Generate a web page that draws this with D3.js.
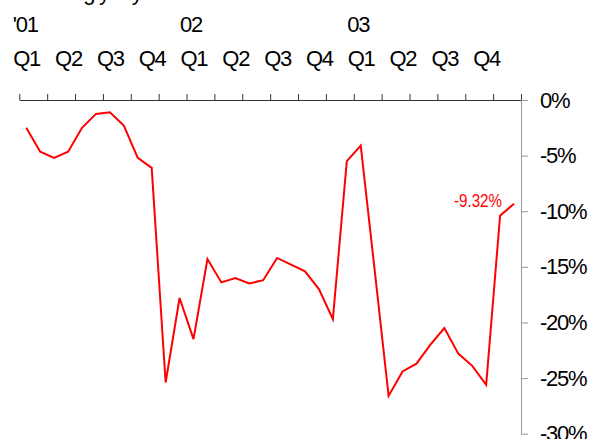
<!DOCTYPE html>
<html>
<head>
<meta charset="utf-8">
<script src="https://cdn.jsdelivr.net/npm/d3@7/dist/d3.min.js"></script>
<style>
  html, body { margin: 0; padding: 0; background: #fff; }
  svg { display: block; }
  text { font-family: "Liberation Sans", Arial, sans-serif; }
</style>
</head>
<body>
<svg id="chart" width="592" height="439"></svg>
<script>
// ---- data ----
const title = "Net billing y-o-y";
const years = ["'01", "02", "03"];
const quarters = ["Q1", "Q2", "Q3", "Q4"];
const values2001 = [-2.5, -4.65, -5.2, -4.65, -2.5, -1.25, -1.1, -2.3, -5.2, -6.1, -25.4, -17.8];
const values2002 = [-21.5, -14.3, -16.4, -16.0, -16.5, -16.2, -14.2, -14.8, -15.4, -17.0, -19.7, -5.5];
const values2003 = [-4.1, -15.3, -26.6, -24.4, -23.7, -22.0, -20.5, -22.8, -23.9, -25.6, -10.4, -9.32];
const yTicks = [0, -5, -10, -15, -20, -25, -30];
const lastLabel = "-9.32%";

(function () {
const values = values2001.concat(values2002, values2003);

const svg = d3.select("#chart");
const pLeft = 19.3, pRight = 521, pTop = 100, pBottom = 433.7;
const fs = 22, ls = -1.3;

const x = d3.scaleLinear().domain([0, values.length]).range([pLeft, pRight]);
const y = d3.scaleLinear().domain([-30, 0]).range([pBottom, pTop]);

// title (cut off at top)
svg.append("text").attr("x", 12).attr("y", 0)
  .attr("font-size", fs).attr("letter-spacing", ls)
  .attr("fill", "#000").text(title);

// year labels
years.forEach((yr, i) => {
  svg.append("text")
    .attr("x", x(i * 12) - 6.5).attr("y", 32)
    .attr("font-size", fs).attr("letter-spacing", ls)
    .attr("fill", "#000").text(yr);
});

// quarter labels
for (let yi = 0; yi < years.length; yi++) {
  quarters.forEach((q, qi) => {
    const m = yi * 12 + qi * 3;
    svg.append("text")
      .attr("x", x(m) - 6).attr("y", 66)
      .attr("font-size", fs).attr("letter-spacing", ls)
      .attr("fill", "#000").text(q);
  });
}

// top axis (every two months)
const topAxis = d3.axisTop(x)
  .tickValues(d3.range(0, values.length + 1, 2))
  .tickSize(6).tickSizeOuter(0).tickFormat("");
const gTop = svg.append("g").attr("transform", `translate(0,${pTop})`).call(topAxis);
gTop.selectAll("path, line").attr("stroke", "#333").attr("stroke-width", 1);

// right axis
const rightAxis = d3.axisRight(y)
  .tickValues(yTicks).tickSize(7).tickSizeOuter(0)
  .tickFormat(d => d + "%");
const gRight = svg.append("g").attr("transform", `translate(${pRight},0)`).call(rightAxis);
gRight.select(".domain").attr("stroke", "#999");
gRight.selectAll(".tick line").attr("stroke", "#999");
gRight.selectAll(".tick text")
  .attr("x", 19).attr("font-size", fs).attr("letter-spacing", ls)
  .attr("font-family", "Liberation Sans, Arial, sans-serif")
  .attr("fill", "#000");

// line
const line = d3.line().x((d, i) => x(i + 0.5)).y(d => y(d));
svg.append("path").datum(values)
  .attr("d", line)
  .attr("fill", "none").attr("stroke", "#ff0000").attr("stroke-width", 2)
  .attr("stroke-linejoin", "miter");

// last value label
svg.append("text")
  .attr("x", 502).attr("y", 206.5)
  .attr("text-anchor", "end")
  .attr("font-size", 18).attr("font-weight", 300)
  .attr("textLength", 48).attr("lengthAdjust", "spacingAndGlyphs")
  .attr("fill", "#ff0000").text(lastLabel);
})();
</script>
</body>
</html>
